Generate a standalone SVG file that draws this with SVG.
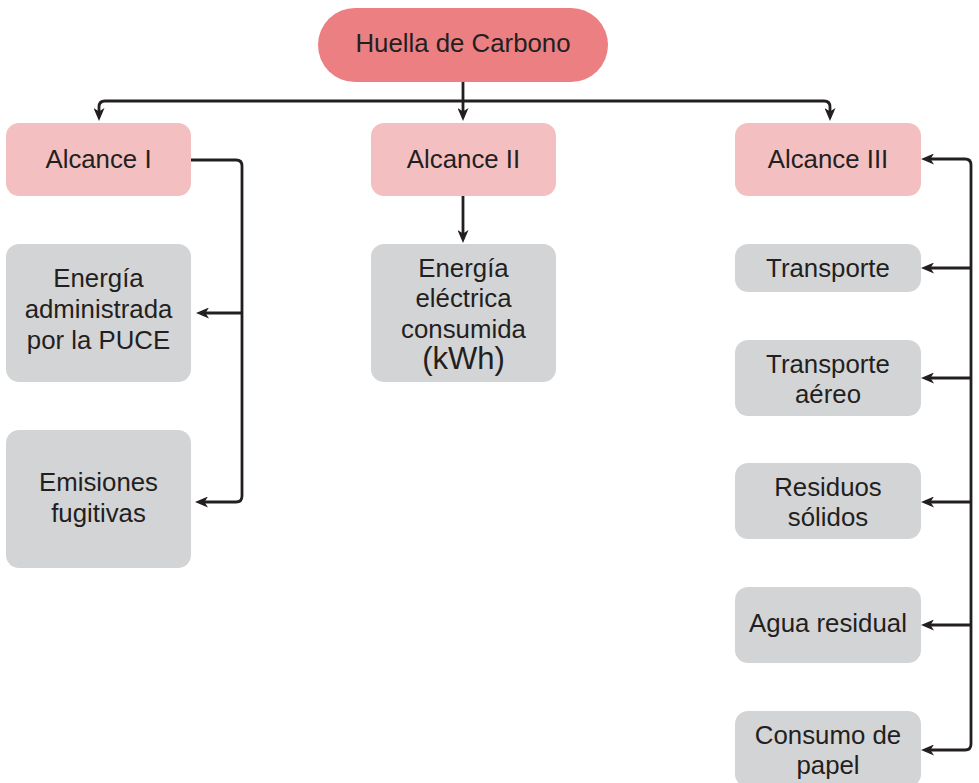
<svg xmlns="http://www.w3.org/2000/svg" width="979" height="783" viewBox="0 0 979 783">
  <style>
    .root { fill: #EC7F82; }
    .scope { fill: #F3BFC0; }
    .item { fill: #D3D4D6; }
    text { font-family: "Liberation Sans", Arial, sans-serif; font-size: 25.8px; fill: #231F20; text-anchor: middle; }
    .link { fill: none; stroke: #231F20; stroke-width: 2.8; }
  </style>
  <defs>
    <marker id="arrow" markerUnits="userSpaceOnUse" markerWidth="13" markerHeight="11" refX="4" refY="5.5" orient="auto-start-reverse" viewBox="0 0 13 11">
      <path d="M0,0 L13,5.5 L0,11 L3.5,5.5 z" fill="#231F20"/>
    </marker>
  </defs>

  <!-- Connectors -->
  <g id="connectors">
    <path class="link" d="M463,82 V112" marker-end="url(#arrow)"/>
    <path class="link" d="M463,101 H105 Q99,101 99,107 V112" marker-end="url(#arrow)"/>
    <path class="link" d="M463,101 H824 Q830,101 830,107 V112" marker-end="url(#arrow)"/>
    <path class="link" d="M463,196 V234" marker-end="url(#arrow)"/>
    <path class="link" d="M191,160 H236 Q242,160 242,166 V496 Q242,502 236,502 H204" marker-end="url(#arrow)"/>
    <path class="link" d="M242,313 H205" marker-end="url(#arrow)"/>
    <path class="link" d="M930,159 H965 Q971,159 971,165 V744 Q971,750 965,750 H930" marker-start="url(#arrow)" marker-end="url(#arrow)"/>
    <path class="link" d="M971,268 H930" marker-end="url(#arrow)"/>
    <path class="link" d="M971,378 H930" marker-end="url(#arrow)"/>
    <path class="link" d="M971,502 H930" marker-end="url(#arrow)"/>
    <path class="link" d="M971,625 H930" marker-end="url(#arrow)"/>
  </g>

  <g id="huella">
    <rect class="root" x="318" y="8" width="290" height="74" rx="37"/>
    <text x="463" y="52">Huella de Carbono</text>
  </g>

  <g id="alcance1">
    <rect class="scope" x="6" y="123" width="185" height="73" rx="13"/>
    <text x="98.5" y="168">Alcance I</text>
  </g>
  <g id="energia-puce">
    <rect class="item" x="6" y="244" width="185" height="138" rx="13"/>
    <text x="98.5" y="287">Energía</text>
    <text x="98.5" y="318">administrada</text>
    <text x="98.5" y="349">por la PUCE</text>
  </g>
  <g id="emisiones">
    <rect class="item" x="6" y="430" width="185" height="138" rx="13"/>
    <text x="98.5" y="491">Emisiones</text>
    <text x="98.5" y="522">fugitivas</text>
  </g>

  <g id="alcance2">
    <rect class="scope" x="371" y="123" width="185" height="73" rx="13"/>
    <text x="463.5" y="168">Alcance II</text>
  </g>
  <g id="energia-electrica">
    <rect class="item" x="371" y="244" width="185" height="138" rx="13"/>
    <text x="463.5" y="277">Energía</text>
    <text x="463.5" y="307">eléctrica</text>
    <text x="463.5" y="338">consumida</text>
    <text x="463.5" y="369" style="font-size:31px">(kWh)</text>
  </g>

  <g id="alcance3">
    <rect class="scope" x="735" y="123" width="186" height="73" rx="13"/>
    <text x="828" y="168">Alcance III</text>
  </g>
  <g id="transporte">
    <rect class="item" x="735" y="244" width="186" height="48" rx="13"/>
    <text x="828" y="277">Transporte</text>
  </g>
  <g id="transporte-aereo">
    <rect class="item" x="735" y="340" width="186" height="76" rx="13"/>
    <text x="828" y="373">Transporte</text>
    <text x="828" y="403">aéreo</text>
  </g>
  <g id="residuos">
    <rect class="item" x="735" y="463" width="186" height="76" rx="13"/>
    <text x="828" y="496">Residuos</text>
    <text x="828" y="526">sólidos</text>
  </g>
  <g id="agua">
    <rect class="item" x="735" y="587" width="186" height="76" rx="13"/>
    <text x="828" y="632">Agua residual</text>
  </g>
  <g id="papel">
    <rect class="item" x="735" y="711" width="186" height="76" rx="13"/>
    <text x="828" y="744">Consumo de</text>
    <text x="828" y="774">papel</text>
  </g>
</svg>
